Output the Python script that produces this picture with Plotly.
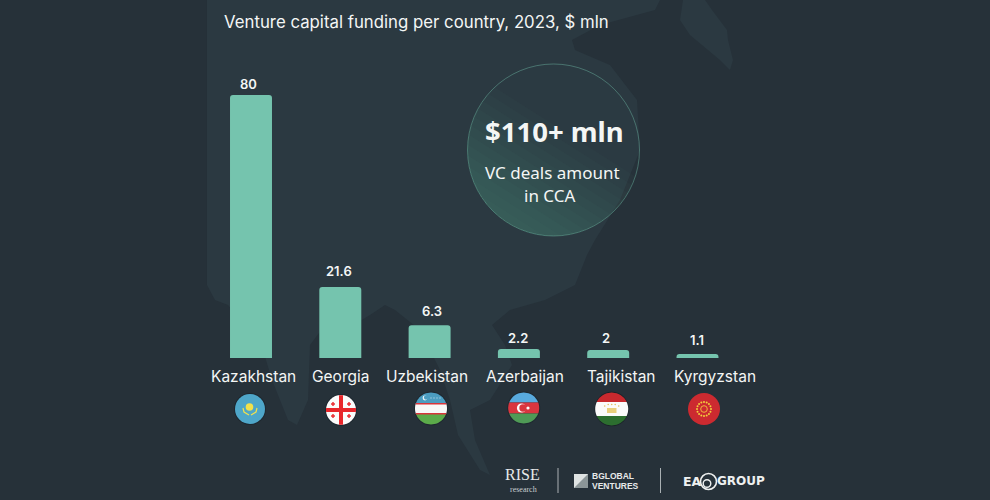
"""Venture capital funding per country, 2023: bars on a dark map background."""
import numpy as np
import plotly.graph_objects as go

WIDTH, HEIGHT = 990, 500

countries = ["Kazakhstan", "Georgia", "Uzbekistan", "Azerbaijan", "Tajikistan", "Kyrgyzstan"]
funding_labels = ["80", "21.6", "6.3", "2.2", "2", "1.1"]
# bar lengths as drawn in the picture: the small bars are not to scale with their labels
bar_lengths = [80, 21.6, 10, 2.7, 2.4, 1.2]

label_shift = [-3, -1, 2, -1, -2, -1]
label_lift = [1, 6, 4, 1, 2, 4]
name_shift = [2, 0, -3, 6, 13, 17]

BG = "#263139"
LAND = "#2b3941"
BAR = "#75c4ae"
TEXT = "#f4f6f5"
BODY_FONT = "Inter"


def px(x, y):
    return x / WIDTH, 1 - y / HEIGHT


def poly_path(points, close=True):
    pts = [px(x, y) for x, y in points]
    path = "M " + " L ".join(f"{x:.5f} {y:.5f}" for x, y in pts)
    return path + (" Z" if close else "")


def poly(points, color, line=None, width=0):
    return dict(
        type="path", xref="paper", yref="paper", path=poly_path(points), fillcolor=color,
        line=dict(color=line or "rgba(0,0,0,0)", width=width), layer="below",
    )


def polyline(points, color, width=1):
    return dict(
        type="path", xref="paper", yref="paper", path=poly_path(points, close=False),
        line=dict(color=color, width=width), layer="below",
    )


def circle(cx, cy, r, color, line=None, width=0):
    x0, y0 = px(cx - r, cy - r)
    x1, y1 = px(cx + r, cy + r)
    return dict(
        type="circle", xref="paper", yref="paper", x0=x0, y0=y0, x1=x1, y1=y1,
        fillcolor=color, line=dict(color=line or "rgba(0,0,0,0)", width=width), layer="below",
    )


def rect(x0, y0, x1, y1, color):
    a, b = px(x0, y0)
    c, d = px(x1, y1)
    return dict(
        type="rect", xref="paper", yref="paper", x0=a, y0=b, x1=c, y1=d,
        fillcolor=color, line=dict(width=0), layer="below",
    )


def band(cx, cy, r, y0, y1, color):
    """Horizontal stripe of a round flag, from y0 to y1 in pixels."""
    ys = np.linspace(max(y0, cy - r), min(y1, cy + r), 14)
    half = np.sqrt(np.maximum(r ** 2 - (ys - cy) ** 2, 0))
    points = list(zip(cx - half, ys)) + list(zip(cx + half, ys))[::-1]
    return poly(points, color)


def glow_segment(cx, cy, r, direction, t, color):
    """Part of the big circle on the lit side of a chord."""
    spread = np.arccos(t)
    angles = np.linspace(direction - spread, direction + spread, 48)
    return poly(list(zip(cx + r * np.cos(angles), cy + r * np.sin(angles))), color)


shapes = []

# faint map behind the chart
land_main = [
    (207, 0), (660, 0), (655, 10), (600, 25), (572, 40), (575, 50), (610, 65), (637, 100),
    (640, 150), (620, 200), (595, 240), (587, 255), (575, 285), (545, 300), (510, 310),
    (492, 325), (505, 345), (512, 365), (490, 400), (470, 410), (475, 440), (490, 475),
    (480, 470), (458, 435), (450, 400), (440, 370), (420, 330), (395, 310), (385, 305),
    (370, 315), (345, 330), (325, 325), (310, 345), (308, 400), (297, 425), (288, 420),
    (272, 380), (260, 340), (228, 305), (215, 300), (207, 285),
]
land_east = [
    (683, 0), (680, 20), (690, 35), (720, 60), (730, 70), (733, 60), (728, 40), (727, 30),
    (712, 10), (705, 0),
]
shapes += [poly(land_main, LAND), poly(land_east, LAND)]

# highlight circle, lit from the lower left
CX, CY, CR = 553.5, 150, 86
shapes.append(circle(CX, CY, CR, "rgba(117,196,174,0.01)"))
for t in np.linspace(-0.25, 0.9, 12):
    shapes.append(glow_segment(CX, CY, CR, np.arctan2(63, -40), t, "rgba(117,196,174,0.024)"))
shapes.append(circle(CX, CY, CR, "rgba(0,0,0,0)", "rgba(117,196,174,0.42)", 1))

# flags
shapes.append(circle(250, 409, 16, "#1e2830"))
shapes.append(circle(250, 409, 15, "#4ea6c9"))
shapes.append(circle(249.5, 407, 3.8, "#f2e14c"))
shapes.append(polyline([(243, 408), (244, 412), (249, 415)], "#f2e14c", 1.2))
shapes.append(polyline([(257, 408), (256, 412), (251, 415)], "#f2e14c", 1.2))

shapes.append(circle(341, 410, 16, "#1e2830"))
shapes.append(circle(341, 410, 15, "#fbfbfb"))
shapes.append(band(341, 410, 15, 408, 412, "#e8262b"))
shapes.append(rect(339, 395.2, 343, 424.8, "#e8262b"))
for dx, dy in [(-8, -6), (8, -6), (-8, 6), (8, 6)]:
    shapes.append(rect(341 + dx - 0.7, 410 + dy - 2, 341 + dx + 0.7, 410 + dy + 2, "#e8262b"))
    shapes.append(rect(341 + dx - 2, 410 + dy - 0.7, 341 + dx + 2, 410 + dy + 0.7, "#e8262b"))

shapes.append(circle(431, 408.5, 17, "#1e2830"))
shapes.append(band(431, 408.5, 16, 392, 403, "#4b9cc0"))
shapes.append(band(431, 408.5, 16, 403, 414, "#f8f8f8"))
shapes.append(band(431, 408.5, 16, 414, 425, "#5bab4a"))
shapes.append(band(431, 408.5, 16, 403, 404.5, "#d8343a"))
shapes.append(band(431, 408.5, 16, 413, 414.5, "#d8343a"))
shapes.append(circle(425, 398, 2.4, "#e8f2f6"))
shapes.append(circle(426, 397.6, 2.1, "#4b9cc0"))
for dx in (0, 3, 6, 9):
    shapes.append(circle(431 + dx, 398, 0.7, "#a9d0e0"))

shapes.append(circle(523.7, 408, 16.5, "#1e2830"))
shapes.append(band(523.7, 408, 15.5, 392, 402.5, "#58aade"))
shapes.append(band(523.7, 408, 15.5, 402.5, 413.5, "#d9353f"))
shapes.append(band(523.7, 408, 15.5, 413.5, 424, "#4f9a56"))
shapes.append(circle(521.5, 408, 4.6, "#fbfbfb"))
shapes.append(circle(523, 408, 3.7, "#d9353f"))
shapes.append(circle(528, 408, 1.6, "#fbfbfb"))

shapes.append(circle(611.7, 409, 17.2, "#1a2228"))
shapes.append(band(611.7, 409, 16.5, 392, 402, "#c8292e"))
shapes.append(band(611.7, 409, 16.5, 402, 416, "#fbfbfb"))
shapes.append(band(611.7, 409, 16.5, 416, 426, "#2c6e2f"))
shapes.append(rect(607, 408, 616.5, 413, "#e9cf7c"))
for dx in (-7, -3.5, 0, 3.5, 7):
    shapes.append(circle(611.7 + dx, 404.5 if abs(dx) < 7 else 406, 0.8, "#e2c163"))

shapes.append(circle(704, 409, 16, "#cc2a30"))
for a in np.linspace(0, 2 * np.pi, 16, endpoint=False):
    shapes.append(circle(704 + 7 * np.cos(a), 409 + 7 * np.sin(a), 1.0, "#f2cf3c"))
shapes.append(circle(704, 409, 3.3, "rgba(0,0,0,0)", "#f2b53c", 1))

# partner logos
shapes.append(rect(557.5, 468, 558.5, 493, "#a9b0b3"))
shapes.append(rect(660, 468, 661, 493, "#a9b0b3"))
shapes.append(rect(574, 474, 588, 488, "#dfe3e3"))
shapes.append(poly([(574, 488), (588, 474), (588, 488)], "#8c9698"))
shapes.append(circle(708.5, 481.5, 8, "rgba(0,0,0,0)", "#eef0f0", 1.6))
shapes.append(circle(707, 483.5, 3.8, "rgba(0,0,0,0)", "#eef0f0", 1.4))


def note(x, y, text, size, weight=400, family=BODY_FONT, color=TEXT, anchor="center"):
    xp, yp = px(x, y)
    return dict(
        x=xp, y=yp, xref="paper", yref="paper", text=text, showarrow=False, xanchor=anchor,
        yanchor="middle", align=anchor, font=dict(family=family, size=size, color=color, weight=weight),
    )


annotations = [
    note(221.5, 22, "Venture capital funding per country, 2023, $ mln", 16.8, anchor="left"),
    note(554.5, 131, "$110+ mln", 27.5, 700, "Noto Sans"),
    note(552, 172, "VC deals amount", 17, family="Noto Sans"),
    note(549, 195, "in CCA", 17, family="Noto Sans"),
    note(522, 474.5, "RISE", 16, family="Liberation Serif", color="#e6e9e9"),
    note(539, 489, "research", 8, family="Liberation Serif", color="#c9cfd0", anchor="right"),
    note(590, 475.5, "BGLOBAL", 8.5, 700, "Liberation Sans", "#e6e9e9", "left"),
    note(590, 486, "VENTURES", 8.5, 700, "Liberation Sans", "#e6e9e9", "left"),
    note(680.5, 481, "EA", 12.5, 800, "DejaVu Sans", "#eef0f0", "left"),
    note(715, 481, "GROUP", 12, 800, "DejaVu Sans", "#eef0f0", "left"),
]

# value labels sit above the bars, country names on a common line under them
for i, name in enumerate(countries):
    annotations.append(dict(
        x=i, y=bar_lengths[i], xref="x", yref="y", text=funding_labels[i], showarrow=False,
        xanchor="center", yanchor="bottom", xshift=label_shift[i], yshift=label_lift[i],
        font=dict(family=BODY_FONT, size=13, color=TEXT, weight=600),
    ))
    annotations.append(dict(
        x=i, y=0, xref="x", yref="y", text=name, showarrow=False,
        xanchor="center", yanchor="middle", xshift=name_shift[i], yshift=-18,
        font=dict(family=BODY_FONT, size=15.5, color=TEXT),
    ))

fig = go.Figure(
    go.Bar(
        x=list(range(len(countries))), y=bar_lengths, width=0.47,
        marker=dict(color=BAR, line=dict(width=0), cornerradius=3),
        customdata=countries, hovertemplate="%{customdata}<extra></extra>",
    )
)

fig.update_layout(
    width=WIDTH, height=HEIGHT, autosize=False,
    margin=dict(l=0, r=0, t=0, b=0),
    paper_bgcolor=BG, plot_bgcolor="rgba(0,0,0,0)",
    showlegend=False, shapes=shapes, annotations=annotations,
)
# one category step is 89.3 px, the first bar is centred at 251 px
fig.update_xaxes(visible=False, range=[-251 / 89.3, (WIDTH - 251) / 89.3], domain=[0, 1])
# baseline at 358 px, value 80 reaches 95 px
fig.update_yaxes(visible=False, range=[0, 358 / 263 * 80], domain=[1 - 358 / HEIGHT, 1])

fig.write_html(
    "out.html",
    config=dict(displayModeBar=False),
    post_script="document.body.style.margin='0';document.body.style.background='#263139';",
)
